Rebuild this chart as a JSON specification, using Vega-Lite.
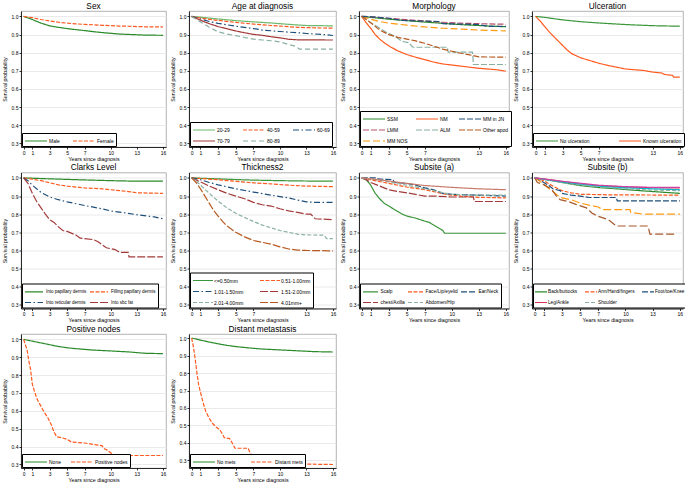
{
"$schema":"https://vega.github.io/schema/vega-lite/v6.json",
"background":"white",
"padding":{"left":1,"top":1,"right":0,"bottom":0},
"columns":4,
"bounds":"flush",
"spacing":{"row":25.5,"column":23},
"resolve":{"scale":{"color":"independent","strokeDash":"independent","x":"independent","y":"independent"}},
"config":{
 "font":"Liberation Sans",
 "view":{"stroke":"#a0a0a0","strokeWidth":0.8},
 "title":{"fontSize":8.3,"fontWeight":"normal","offset":1,"color":"#000"},
 "axis":{"labelFontSize":5,"titleFontSize":5.3,"titleFontWeight":"normal","tickSize":2,"tickColor":"#000","domainColor":"#000","domainWidth":0.8,"tickWidth":0.8,"labelColor":"#000","titleColor":"#000","labelPadding":1},
 "axisX":{"grid":false,"titlePadding":1,"labelFlush":false,"labelAngle":0},
 "axisY":{"grid":true,"gridColor":"#e4e4e4","gridWidth":0.8,"titlePadding":4,"labelAngle":0},
 "legend":{"orient":"bottom-left","direction":"horizontal","gridAlign":"each","offset":1,"padding":2,"fillColor":"#fff","strokeColor":"#000","labelFontSize":5,"labelColor":"#000","symbolType":"M-2.2,0H2.2","symbolSize":100,"symbolOffset":6,"labelOffset":7,"symbolStrokeWidth":1.2,"rowPadding":2,"labelLimit":200}
},
"concat":[
{"title":"Sex","width":145,"height":136,
 "data":{"values":[
 {"g":"Male","t":0,"s":1},{"g":"Male","t":0.5,"s":0.992},{"g":"Male","t":1,"s":0.983},{"g":"Male","t":2,"s":0.963},{"g":"Male","t":3,"s":0.948},{"g":"Male","t":4,"s":0.94},{"g":"Male","t":5,"s":0.933},{"g":"Male","t":6,"s":0.927},{"g":"Male","t":7,"s":0.922},{"g":"Male","t":8,"s":0.916},{"g":"Male","t":9,"s":0.911},{"g":"Male","t":10,"s":0.907},{"g":"Male","t":11,"s":0.903},{"g":"Male","t":12,"s":0.901},{"g":"Male","t":13,"s":0.899},{"g":"Male","t":14,"s":0.897},{"g":"Male","t":16,"s":0.896},
 {"g":"Female","t":0,"s":1},{"g":"Female","t":1,"s":0.993},{"g":"Female","t":2,"s":0.983},{"g":"Female","t":3,"s":0.975},{"g":"Female","t":4,"s":0.968},{"g":"Female","t":5,"s":0.963},{"g":"Female","t":6,"s":0.959},{"g":"Female","t":7,"s":0.956},{"g":"Female","t":8,"s":0.954},{"g":"Female","t":9,"s":0.951},{"g":"Female","t":10,"s":0.949},{"g":"Female","t":11,"s":0.947},{"g":"Female","t":12,"s":0.946},{"g":"Female","t":13,"s":0.944},{"g":"Female","t":14,"s":0.943},{"g":"Female","t":16,"s":0.942}
 ]},
 "mark":{"type":"line","strokeWidth":1.2,"clip":true},
 "encoding":{
  "x":{"field":"t","type":"quantitative","scale":{"domain":[-0.3,16.35],"nice":false,"zero":false},"axis":{"values":[0,1,3,5,7,10,13,16],"title":"Years since diagnosis"}},
  "y":{"field":"s","type":"quantitative","scale":{"domain":[0.28,1.03],"nice":false,"zero":false},"axis":{"values":[0.3,0.4,0.5,0.6,0.7,0.8,0.9,1.0],"format":".1f","title":"Survival probability"}},
  "color":{"field":"g","type":"nominal","scale":{"domain":["Male","Female"],"range":["#2a8a2a","#ff5a1f"]},"legend":{"title":null,"columns":2,"columnPadding":10}},
  "strokeDash":{"field":"g","type":"nominal","scale":{"domain":["Male","Female"],"range":[[1,0],[4,1.5]]},"legend":{"title":null,"columns":2,"columnPadding":10}}
 }},
{"title":"Age at diagnosis","width":147,"height":136,
 "data":{"values":[
 {"g":"20-29","t":0,"s":1},{"g":"20-29","t":1,"s":0.996},{"g":"20-29","t":3,"s":0.986},{"g":"20-29","t":5,"s":0.977},{"g":"20-29","t":7,"s":0.97},{"g":"20-29","t":9,"s":0.964},{"g":"20-29","t":10,"s":0.96},{"g":"20-29","t":12,"s":0.953},{"g":"20-29","t":13,"s":0.95},{"g":"20-29","t":16,"s":0.948},
 {"g":"40-59","t":0,"s":1},{"g":"40-59","t":1,"s":0.991},{"g":"40-59","t":3,"s":0.978},{"g":"40-59","t":5,"s":0.967},{"g":"40-59","t":7,"s":0.958},{"g":"40-59","t":9,"s":0.95},{"g":"40-59","t":10,"s":0.947},{"g":"40-59","t":12,"s":0.94},{"g":"40-59","t":14,"s":0.937},{"g":"40-59","t":16,"s":0.935},
 {"g":"60-69","t":0,"s":1},{"g":"60-69","t":1,"s":0.986},{"g":"60-69","t":2,"s":0.972},{"g":"60-69","t":3,"s":0.962},{"g":"60-69","t":5,"s":0.946},{"g":"60-69","t":7,"s":0.933},{"g":"60-69","t":8,"s":0.925},{"g":"60-69","t":10,"s":0.917},{"g":"60-69","t":12,"s":0.91},{"g":"60-69","t":13,"s":0.906},{"g":"60-69","t":15,"s":0.9},{"g":"60-69","t":16,"s":0.895},
 {"g":"70-79","t":0,"s":1},{"g":"70-79","t":1,"s":0.979},{"g":"70-79","t":2,"s":0.96},{"g":"70-79","t":3,"s":0.944},{"g":"70-79","t":4,"s":0.932},{"g":"70-79","t":5,"s":0.92},{"g":"70-79","t":6,"s":0.91},{"g":"70-79","t":7,"s":0.901},{"g":"70-79","t":8,"s":0.896},{"g":"70-79","t":9,"s":0.888},{"g":"70-79","t":10,"s":0.882},{"g":"70-79","t":11,"s":0.874},{"g":"70-79","t":12,"s":0.871},{"g":"70-79","t":16,"s":0.87},
 {"g":"80-89","t":0,"s":1},{"g":"80-89","t":0.5,"s":0.985},{"g":"80-89","t":1,"s":0.97},{"g":"80-89","t":2,"s":0.94},{"g":"80-89","t":3,"s":0.915},{"g":"80-89","t":4,"s":0.903},{"g":"80-89","t":5,"s":0.894},{"g":"80-89","t":6,"s":0.884},{"g":"80-89","t":7,"s":0.875},{"g":"80-89","t":8,"s":0.87},{"g":"80-89","t":9,"s":0.866},{"g":"80-89","t":10,"s":0.86},{"g":"80-89","t":11,"s":0.845},{"g":"80-89","t":11.8,"s":0.835},{"g":"80-89","t":12.2,"s":0.82},{"g":"80-89","t":16,"s":0.82}
 ]},
 "mark":{"type":"line","strokeWidth":1.2,"clip":true},
 "encoding":{
  "x":{"field":"t","type":"quantitative","scale":{"domain":[-0.3,16.35],"nice":false,"zero":false},"axis":{"values":[0,1,3,5,7,10,13,16],"title":"Years since diagnosis"}},
  "y":{"field":"s","type":"quantitative","scale":{"domain":[0.28,1.03],"nice":false,"zero":false},"axis":{"values":[0.3,0.4,0.5,0.6,0.7,0.8,0.9,1.0],"format":".1f","title":"Survival probability"}},
  "color":{"field":"g","type":"nominal","scale":{"domain":["20-29","40-59","60-69","70-79","80-89"],"range":["#6cb86c","#ff5a1f","#1e4f7a","#a33a3a","#8ab0a0"]},"legend":{"title":null,"columns":3,"columnPadding":10}},
  "strokeDash":{"field":"g","type":"nominal","scale":{"domain":["20-29","40-59","60-69","70-79","80-89"],"range":[[1,0],[4,1.5],[6,2.5,1.5,2.5],[1,0],[5,3]]},"legend":{"title":null,"columns":3,"columnPadding":10}}
 }},
{"title":"Morphology","width":150,"height":136,
 "data":{"values":[
 {"g":"SSM","t":0,"s":1},{"g":"SSM","t":1,"s":0.995},{"g":"SSM","t":3,"s":0.985},{"g":"SSM","t":5,"s":0.977},{"g":"SSM","t":7,"s":0.969},{"g":"SSM","t":9,"s":0.962},{"g":"SSM","t":11,"s":0.955},{"g":"SSM","t":13,"s":0.95},{"g":"SSM","t":15,"s":0.945},{"g":"SSM","t":16,"s":0.943},
 {"g":"LMM","t":0,"s":1},{"g":"LMM","t":1,"s":0.998},{"g":"LMM","t":3,"s":0.99},{"g":"LMM","t":5,"s":0.982},{"g":"LMM","t":7,"s":0.975},{"g":"LMM","t":9,"s":0.968},{"g":"LMM","t":11,"s":0.963},{"g":"LMM","t":13,"s":0.96},{"g":"LMM","t":16,"s":0.957},
 {"g":"MM NOS","t":0,"s":1},{"g":"MM NOS","t":1,"s":0.985},{"g":"MM NOS","t":2,"s":0.972},{"g":"MM NOS","t":3,"s":0.963},{"g":"MM NOS","t":5,"s":0.952},{"g":"MM NOS","t":7,"s":0.942},{"g":"MM NOS","t":9,"s":0.935},{"g":"MM NOS","t":11,"s":0.93},{"g":"MM NOS","t":13,"s":0.925},{"g":"MM NOS","t":16,"s":0.92},
 {"g":"NM","t":0,"s":1},{"g":"NM","t":0.5,"s":0.965},{"g":"NM","t":1,"s":0.935},{"g":"NM","t":1.5,"s":0.9},{"g":"NM","t":2,"s":0.875},{"g":"NM","t":2.5,"s":0.855},{"g":"NM","t":3,"s":0.838},{"g":"NM","t":4,"s":0.81},{"g":"NM","t":5,"s":0.79},{"g":"NM","t":6,"s":0.775},{"g":"NM","t":7,"s":0.762},{"g":"NM","t":8,"s":0.748},{"g":"NM","t":9,"s":0.738},{"g":"NM","t":10,"s":0.732},{"g":"NM","t":11,"s":0.726},{"g":"NM","t":12,"s":0.72},{"g":"NM","t":13,"s":0.714},{"g":"NM","t":14,"s":0.71},{"g":"NM","t":15,"s":0.706},{"g":"NM","t":16,"s":0.698},
 {"g":"ALM","t":0,"s":1},{"g":"ALM","t":1,"s":0.965},{"g":"ALM","t":2,"s":0.935},{"g":"ALM","t":2.8,"s":0.91},{"g":"ALM","t":3.3,"s":0.9},{"g":"ALM","t":4,"s":0.88},{"g":"ALM","t":4.5,"s":0.862},{"g":"ALM","t":5.2,"s":0.855},{"g":"ALM","t":5.7,"s":0.83},{"g":"ALM","t":9.5,"s":0.83},{"g":"ALM","t":9.6,"s":0.803},{"g":"ALM","t":12.3,"s":0.803},{"g":"ALM","t":12.4,"s":0.735},{"g":"ALM","t":16,"s":0.735},
 {"g":"MM in JN","t":0,"s":1},{"g":"MM in JN","t":1,"s":0.998},{"g":"MM in JN","t":3,"s":0.99},{"g":"MM in JN","t":4.5,"s":0.978},{"g":"MM in JN","t":6,"s":0.975},{"g":"MM in JN","t":8.5,"s":0.972},{"g":"MM in JN","t":9,"s":0.96},{"g":"MM in JN","t":11,"s":0.958},{"g":"MM in JN","t":13,"s":0.955},{"g":"MM in JN","t":14,"s":0.945},{"g":"MM in JN","t":16,"s":0.945},
 {"g":"Other apod","t":0,"s":1},{"g":"Other apod","t":0.5,"s":0.985},{"g":"Other apod","t":1,"s":0.965},{"g":"Other apod","t":2,"s":0.925},{"g":"Other apod","t":3,"s":0.9},{"g":"Other apod","t":4,"s":0.885},{"g":"Other apod","t":5,"s":0.875},{"g":"Other apod","t":6,"s":0.865},{"g":"Other apod","t":7,"s":0.852},{"g":"Other apod","t":8,"s":0.836},{"g":"Other apod","t":9,"s":0.82},{"g":"Other apod","t":10,"s":0.808},{"g":"Other apod","t":11,"s":0.797},{"g":"Other apod","t":12,"s":0.788},{"g":"Other apod","t":13,"s":0.777},{"g":"Other apod","t":16,"s":0.775}
 ]},
 "mark":{"type":"line","strokeWidth":1.2,"clip":true},
 "encoding":{
  "x":{"field":"t","type":"quantitative","scale":{"domain":[-0.3,16.35],"nice":false,"zero":false},"axis":{"values":[0,1,3,5,7,13,16],"title":"Years since diagnosis"}},
  "y":{"field":"s","type":"quantitative","scale":{"domain":[0.28,1.03],"nice":false,"zero":false},"axis":{"values":[0.3,0.4,0.5,0.6,0.7,0.8,0.9,1.0],"format":".1f","title":"Survival probability"}},
  "color":{"field":"g","type":"nominal","scale":{"domain":["SSM","NM","MM in JN","LMM","ALM","Other apod","MM NOS"],"range":["#2a8a2a","#ff5a1f","#1e4f7a","#b8506a","#8ab0a0","#b85a20","#ff9a10"]},"legend":{"title":null,"columns":3,"columnPadding":5}},
  "strokeDash":{"field":"g","type":"nominal","scale":{"domain":["SSM","NM","MM in JN","LMM","ALM","Other apod","MM NOS"],"range":[[1,0],[1,0],[6,2],[6,2],[6,2],[6,2],[7,3]]},"legend":{"title":null,"columns":3,"columnPadding":5}}
 }},
{"title":"Ulceration","width":151,"height":136,
 "data":{"values":[
 {"g":"No ulceration","t":0,"s":1},{"g":"No ulceration","t":1,"s":0.995},{"g":"No ulceration","t":2,"s":0.988},{"g":"No ulceration","t":3,"s":0.981},{"g":"No ulceration","t":5,"s":0.971},{"g":"No ulceration","t":7,"s":0.964},{"g":"No ulceration","t":9,"s":0.958},{"g":"No ulceration","t":11,"s":0.953},{"g":"No ulceration","t":13,"s":0.949},{"g":"No ulceration","t":16,"s":0.946},
 {"g":"Known ulceration","t":0,"s":1},{"g":"Known ulceration","t":0.5,"s":0.975},{"g":"Known ulceration","t":1,"s":0.945},{"g":"Known ulceration","t":1.5,"s":0.915},{"g":"Known ulceration","t":2,"s":0.89},{"g":"Known ulceration","t":2.5,"s":0.865},{"g":"Known ulceration","t":3,"s":0.84},{"g":"Known ulceration","t":3.5,"s":0.815},{"g":"Known ulceration","t":4,"s":0.795},{"g":"Known ulceration","t":5,"s":0.772},{"g":"Known ulceration","t":6,"s":0.757},{"g":"Known ulceration","t":7,"s":0.742},{"g":"Known ulceration","t":8,"s":0.73},{"g":"Known ulceration","t":9,"s":0.72},{"g":"Known ulceration","t":10,"s":0.71},{"g":"Known ulceration","t":11,"s":0.706},{"g":"Known ulceration","t":12,"s":0.702},{"g":"Known ulceration","t":13,"s":0.693},{"g":"Known ulceration","t":14,"s":0.688},{"g":"Known ulceration","t":14.3,"s":0.68},{"g":"Known ulceration","t":15.2,"s":0.675},{"g":"Known ulceration","t":15.3,"s":0.665},{"g":"Known ulceration","t":16,"s":0.665}
 ]},
 "mark":{"type":"line","strokeWidth":1.2,"clip":true},
 "encoding":{
  "x":{"field":"t","type":"quantitative","scale":{"domain":[-0.4,16.35],"nice":false,"zero":false},"axis":{"values":[0,1,3,5,7,13,16],"title":"Years since diagnosis"}},
  "y":{"field":"s","type":"quantitative","scale":{"domain":[0.28,1.03],"nice":false,"zero":false},"axis":{"values":[0.3,0.4,0.5,0.6,0.7,0.8,0.9,1.0],"format":".1f","title":"Survival probability"}},
  "color":{"field":"g","type":"nominal","scale":{"domain":["No ulceration","Known ulceration"],"range":["#3a963a","#ff5a1f"]},"legend":{"title":null,"columns":2,"columnPadding":26}},
  "strokeDash":{"field":"g","type":"nominal","scale":{"domain":["No ulceration","Known ulceration"],"range":[[1,0],[1,0]]},"legend":{"title":null,"columns":2,"columnPadding":26}}
 }},
{"title":"Clarks Level","width":145,"height":136,
 "data":{"values":[
 {"g":"Into papillary dermis","t":0,"s":1},{"g":"Into papillary dermis","t":3,"s":0.995},{"g":"Into papillary dermis","t":5,"s":0.992},{"g":"Into papillary dermis","t":7,"s":0.989},{"g":"Into papillary dermis","t":10,"s":0.985},{"g":"Into papillary dermis","t":13,"s":0.982},{"g":"Into papillary dermis","t":16,"s":0.982},
 {"g":"Filling papillary dermis","t":0,"s":1},{"g":"Filling papillary dermis","t":1,"s":0.993},{"g":"Filling papillary dermis","t":2,"s":0.985},{"g":"Filling papillary dermis","t":3,"s":0.973},{"g":"Filling papillary dermis","t":4,"s":0.962},{"g":"Filling papillary dermis","t":5,"s":0.955},{"g":"Filling papillary dermis","t":7,"s":0.945},{"g":"Filling papillary dermis","t":9,"s":0.94},{"g":"Filling papillary dermis","t":10,"s":0.935},{"g":"Filling papillary dermis","t":12,"s":0.925},{"g":"Filling papillary dermis","t":13,"s":0.918},{"g":"Filling papillary dermis","t":16,"s":0.915},
 {"g":"Into reticular dermis","t":0,"s":1},{"g":"Into reticular dermis","t":0.5,"s":0.985},{"g":"Into reticular dermis","t":1,"s":0.96},{"g":"Into reticular dermis","t":2,"s":0.92},{"g":"Into reticular dermis","t":3,"s":0.895},{"g":"Into reticular dermis","t":4,"s":0.88},{"g":"Into reticular dermis","t":5,"s":0.868},{"g":"Into reticular dermis","t":7,"s":0.848},{"g":"Into reticular dermis","t":9,"s":0.83},{"g":"Into reticular dermis","t":10,"s":0.818},{"g":"Into reticular dermis","t":12,"s":0.805},{"g":"Into reticular dermis","t":13,"s":0.797},{"g":"Into reticular dermis","t":15,"s":0.785},{"g":"Into reticular dermis","t":16,"s":0.775},
 {"g":"Into sbc fat","t":0,"s":1},{"g":"Into sbc fat","t":0.5,"s":0.97},{"g":"Into sbc fat","t":1,"s":0.915},{"g":"Into sbc fat","t":1.5,"s":0.87},{"g":"Into sbc fat","t":2,"s":0.835},{"g":"Into sbc fat","t":2.5,"s":0.8},{"g":"Into sbc fat","t":3,"s":0.77},{"g":"Into sbc fat","t":3.5,"s":0.755},{"g":"Into sbc fat","t":4,"s":0.73},{"g":"Into sbc fat","t":4.5,"s":0.71},{"g":"Into sbc fat","t":5,"s":0.705},{"g":"Into sbc fat","t":6,"s":0.685},{"g":"Into sbc fat","t":6.5,"s":0.668},{"g":"Into sbc fat","t":8,"s":0.66},{"g":"Into sbc fat","t":8.5,"s":0.65},{"g":"Into sbc fat","t":9,"s":0.632},{"g":"Into sbc fat","t":9.5,"s":0.615},{"g":"Into sbc fat","t":10.5,"s":0.605},{"g":"Into sbc fat","t":11,"s":0.59},{"g":"Into sbc fat","t":12,"s":0.59},{"g":"Into sbc fat","t":12.1,"s":0.565},{"g":"Into sbc fat","t":16,"s":0.565}
 ]},
 "mark":{"type":"line","strokeWidth":1.2,"clip":true},
 "encoding":{
  "x":{"field":"t","type":"quantitative","scale":{"domain":[-0.3,16.35],"nice":false,"zero":false},"axis":{"values":[0,1,3,5,7,10,13,16],"title":"Years since diagnosis"}},
  "y":{"field":"s","type":"quantitative","scale":{"domain":[0.28,1.03],"nice":false,"zero":false},"axis":{"values":[0.3,0.4,0.5,0.6,0.7,0.8,0.9,1.0],"format":".1f","title":"Survival probability"}},
  "color":{"field":"g","type":"nominal","scale":{"domain":["Into papillary dermis","Filling papillary dermis","Into reticular dermis","Into sbc fat"],"range":["#2a8a2a","#ff5a1f","#1e4f7a","#a33a3a"]},"legend":{"title":null,"columns":2,"columnPadding":0,"labelFontSize":4.5,"symbolType":"M-1.8,0H1.8","symbolOffset":4,"labelOffset":6}},
  "strokeDash":{"field":"g","type":"nominal","scale":{"domain":["Into papillary dermis","Filling papillary dermis","Into reticular dermis","Into sbc fat"],"range":[[1,0],[4,1.5],[6,2.5,1.5,2.5],[8,2]]},"legend":{"title":null,"columns":2,"columnPadding":0,"labelFontSize":4.5,"symbolType":"M-1.8,0H1.8","symbolOffset":4,"labelOffset":6}}
 }},
{"title":"Thickness2","width":147,"height":136,
 "data":{"values":[
 {"g":"<=0.50mm","t":0,"s":1},{"g":"<=0.50mm","t":3,"s":0.995},{"g":"<=0.50mm","t":5,"s":0.991},{"g":"<=0.50mm","t":7,"s":0.988},{"g":"<=0.50mm","t":10,"s":0.985},{"g":"<=0.50mm","t":13,"s":0.983},{"g":"<=0.50mm","t":16,"s":0.982},
 {"g":"0.51-1.00mm","t":0,"s":1},{"g":"0.51-1.00mm","t":1,"s":0.997},{"g":"0.51-1.00mm","t":3,"s":0.99},{"g":"0.51-1.00mm","t":5,"s":0.981},{"g":"0.51-1.00mm","t":7,"s":0.973},{"g":"0.51-1.00mm","t":9,"s":0.967},{"g":"0.51-1.00mm","t":11,"s":0.96},{"g":"0.51-1.00mm","t":13,"s":0.955},{"g":"0.51-1.00mm","t":16,"s":0.952},
 {"g":"1.01-1.50mm","t":0,"s":1},{"g":"1.01-1.50mm","t":1,"s":0.99},{"g":"1.01-1.50mm","t":2,"s":0.975},{"g":"1.01-1.50mm","t":3,"s":0.962},{"g":"1.01-1.50mm","t":5,"s":0.94},{"g":"1.01-1.50mm","t":7,"s":0.922},{"g":"1.01-1.50mm","t":9,"s":0.905},{"g":"1.01-1.50mm","t":10,"s":0.897},{"g":"1.01-1.50mm","t":11,"s":0.89},{"g":"1.01-1.50mm","t":12,"s":0.878},{"g":"1.01-1.50mm","t":13,"s":0.868},{"g":"1.01-1.50mm","t":14,"s":0.865},{"g":"1.01-1.50mm","t":16,"s":0.865},
 {"g":"1.51-2.00mm","t":0,"s":1},{"g":"1.51-2.00mm","t":1,"s":0.978},{"g":"1.51-2.00mm","t":2,"s":0.955},{"g":"1.51-2.00mm","t":3,"s":0.935},{"g":"1.51-2.00mm","t":4,"s":0.915},{"g":"1.51-2.00mm","t":5,"s":0.9},{"g":"1.51-2.00mm","t":6,"s":0.885},{"g":"1.51-2.00mm","t":7,"s":0.865},{"g":"1.51-2.00mm","t":8,"s":0.852},{"g":"1.51-2.00mm","t":9,"s":0.845},{"g":"1.51-2.00mm","t":10,"s":0.83},{"g":"1.51-2.00mm","t":11,"s":0.818},{"g":"1.51-2.00mm","t":12,"s":0.81},{"g":"1.51-2.00mm","t":13,"s":0.8},{"g":"1.51-2.00mm","t":13.5,"s":0.8},{"g":"1.51-2.00mm","t":14,"s":0.775},{"g":"1.51-2.00mm","t":16,"s":0.77},
 {"g":"2.01-4.00mm","t":0,"s":1},{"g":"2.01-4.00mm","t":0.5,"s":0.985},{"g":"2.01-4.00mm","t":1,"s":0.96},{"g":"2.01-4.00mm","t":2,"s":0.915},{"g":"2.01-4.00mm","t":3,"s":0.872},{"g":"2.01-4.00mm","t":4,"s":0.835},{"g":"2.01-4.00mm","t":5,"s":0.805},{"g":"2.01-4.00mm","t":6,"s":0.782},{"g":"2.01-4.00mm","t":7,"s":0.76},{"g":"2.01-4.00mm","t":8,"s":0.74},{"g":"2.01-4.00mm","t":9,"s":0.725},{"g":"2.01-4.00mm","t":10,"s":0.71},{"g":"2.01-4.00mm","t":11,"s":0.7},{"g":"2.01-4.00mm","t":12,"s":0.69},{"g":"2.01-4.00mm","t":13,"s":0.686},{"g":"2.01-4.00mm","t":15,"s":0.684},{"g":"2.01-4.00mm","t":15.3,"s":0.665},{"g":"2.01-4.00mm","t":16,"s":0.665},
 {"g":"4.01mm+","t":0,"s":1},{"g":"4.01mm+","t":0.5,"s":0.975},{"g":"4.01mm+","t":1,"s":0.94},{"g":"4.01mm+","t":1.5,"s":0.9},{"g":"4.01mm+","t":2,"s":0.86},{"g":"4.01mm+","t":2.5,"s":0.82},{"g":"4.01mm+","t":3,"s":0.79},{"g":"4.01mm+","t":3.5,"s":0.76},{"g":"4.01mm+","t":4,"s":0.735},{"g":"4.01mm+","t":5,"s":0.7},{"g":"4.01mm+","t":6,"s":0.675},{"g":"4.01mm+","t":7,"s":0.655},{"g":"4.01mm+","t":8,"s":0.645},{"g":"4.01mm+","t":9,"s":0.635},{"g":"4.01mm+","t":10,"s":0.62},{"g":"4.01mm+","t":11,"s":0.608},{"g":"4.01mm+","t":12,"s":0.602},{"g":"4.01mm+","t":13,"s":0.6},{"g":"4.01mm+","t":16,"s":0.598}
 ]},
 "mark":{"type":"line","strokeWidth":1.2,"clip":true},
 "encoding":{
  "x":{"field":"t","type":"quantitative","scale":{"domain":[-0.3,16.35],"nice":false,"zero":false},"axis":{"values":[0,1,3,5,7,13,16],"title":"Years since diagnosis"}},
  "y":{"field":"s","type":"quantitative","scale":{"domain":[0.28,1.03],"nice":false,"zero":false},"axis":{"values":[0.3,0.4,0.5,0.6,0.7,0.8,0.9,1.0],"format":".1f","title":"Survival probability"}},
  "color":{"field":"g","type":"nominal","scale":{"domain":["<=0.50mm","0.51-1.00mm","1.01-1.50mm","1.51-2.00mm","2.01-4.00mm","4.01mm+"],"range":["#3a963a","#ff5a1f","#1e4f7a","#a33a3a","#8ab0a0","#b85a20"]},"legend":{"title":null,"columns":2,"columnPadding":13,"symbolType":"M-2,0H2","symbolOffset":5,"labelOffset":5}},
  "strokeDash":{"field":"g","type":"nominal","scale":{"domain":["<=0.50mm","0.51-1.00mm","1.01-1.50mm","1.51-2.00mm","2.01-4.00mm","4.01mm+"],"range":[[1,0],[4,1.5],[6,2.5,1.5,2.5],[8,2],[4,2],[8,2]]},"legend":{"title":null,"columns":2,"columnPadding":13,"symbolType":"M-2,0H2","symbolOffset":5,"labelOffset":5}}
 }},
{"title":"Subsite (a)","width":150,"height":136,
 "data":{"values":[
 {"g":"Scalp","t":0,"s":1},{"g":"Scalp","t":0.5,"s":0.99},{"g":"Scalp","t":1,"s":0.96},{"g":"Scalp","t":1.5,"s":0.915},{"g":"Scalp","t":2,"s":0.885},{"g":"Scalp","t":2.5,"s":0.86},{"g":"Scalp","t":3,"s":0.845},{"g":"Scalp","t":3.5,"s":0.83},{"g":"Scalp","t":4,"s":0.815},{"g":"Scalp","t":4.5,"s":0.8},{"g":"Scalp","t":5,"s":0.79},{"g":"Scalp","t":6,"s":0.778},{"g":"Scalp","t":7,"s":0.762},{"g":"Scalp","t":7.5,"s":0.755},{"g":"Scalp","t":8,"s":0.74},{"g":"Scalp","t":8.5,"s":0.725},{"g":"Scalp","t":9,"s":0.71},{"g":"Scalp","t":9.2,"s":0.695},{"g":"Scalp","t":16,"s":0.695},
 {"g":"Face/Lip/eyelid","t":0,"s":1},{"g":"Face/Lip/eyelid","t":1,"s":0.99},{"g":"Face/Lip/eyelid","t":2,"s":0.98},{"g":"Face/Lip/eyelid","t":3,"s":0.97},{"g":"Face/Lip/eyelid","t":5,"s":0.95},{"g":"Face/Lip/eyelid","t":7,"s":0.935},{"g":"Face/Lip/eyelid","t":8,"s":0.925},{"g":"Face/Lip/eyelid","t":9,"s":0.913},{"g":"Face/Lip/eyelid","t":10,"s":0.905},{"g":"Face/Lip/eyelid","t":11,"s":0.9},{"g":"Face/Lip/eyelid","t":13,"s":0.893},{"g":"Face/Lip/eyelid","t":16,"s":0.89},
 {"g":"Ear/Neck","t":0,"s":1},{"g":"Ear/Neck","t":1.5,"s":1.0},{"g":"Ear/Neck","t":1.6,"s":0.995},{"g":"Ear/Neck","t":3.5,"s":0.99},{"g":"Ear/Neck","t":3.6,"s":0.975},{"g":"Ear/Neck","t":5,"s":0.97},{"g":"Ear/Neck","t":6,"s":0.96},{"g":"Ear/Neck","t":7,"s":0.945},{"g":"Ear/Neck","t":8,"s":0.935},{"g":"Ear/Neck","t":9,"s":0.915},{"g":"Ear/Neck","t":10,"s":0.91},{"g":"Ear/Neck","t":13,"s":0.905},{"g":"Ear/Neck","t":16,"s":0.9},
 {"g":"chest/Axilla","t":0,"s":1},{"g":"chest/Axilla","t":0.5,"s":0.99},{"g":"chest/Axilla","t":1,"s":0.975},{"g":"chest/Axilla","t":2,"s":0.955},{"g":"chest/Axilla","t":3,"s":0.935},{"g":"chest/Axilla","t":4,"s":0.925},{"g":"chest/Axilla","t":5,"s":0.918},{"g":"chest/Axilla","t":7,"s":0.9},{"g":"chest/Axilla","t":8,"s":0.9},{"g":"chest/Axilla","t":10,"s":0.895},{"g":"chest/Axilla","t":12.4,"s":0.895},{"g":"chest/Axilla","t":12.5,"s":0.87},{"g":"chest/Axilla","t":16,"s":0.87},
 {"g":"Abdomen/Hip","t":0,"s":1},{"g":"Abdomen/Hip","t":1,"s":0.995},{"g":"Abdomen/Hip","t":3,"s":0.978},{"g":"Abdomen/Hip","t":5,"s":0.96},{"g":"Abdomen/Hip","t":7,"s":0.94},{"g":"Abdomen/Hip","t":8,"s":0.93},{"g":"Abdomen/Hip","t":9,"s":0.918},{"g":"Abdomen/Hip","t":10,"s":0.91},{"g":"Abdomen/Hip","t":12,"s":0.905},{"g":"Abdomen/Hip","t":16,"s":0.905},
 {"g":"Other","t":0,"s":1},{"g":"Other","t":1,"s":0.995},{"g":"Other","t":3,"s":0.983},{"g":"Other","t":5,"s":0.97},{"g":"Other","t":7,"s":0.958},{"g":"Other","t":10,"s":0.948},{"g":"Other","t":13,"s":0.94},{"g":"Other","t":16,"s":0.935}
 ]},
 "mark":{"type":"line","strokeWidth":1.2,"clip":true},
 "encoding":{
  "x":{"field":"t","type":"quantitative","scale":{"domain":[-0.3,16.35],"nice":false,"zero":false},"axis":{"values":[0,1,3,5,7,10,13,16],"title":"Years since diagnosis"}},
  "y":{"field":"s","type":"quantitative","scale":{"domain":[0.28,1.03],"nice":false,"zero":false},"axis":{"values":[0.3,0.4,0.5,0.6,0.7,0.8,0.9,1.0],"format":".1f","title":"Survival probability"}},
  "color":{"field":"g","type":"nominal","scale":{"domain":["Scalp","Face/Lip/eyelid","Ear/Neck","chest/Axilla","Abdomen/Hip","Other"],"range":["#3a963a","#ff5a1f","#1e4f7a","#a33a3a","#8ab0a0","#c87a6a"]},"legend":{"title":null,"columns":3,"columnPadding":0,"labelFontSize":4.8,"symbolType":"M-1.5,0H1.5","symbolOffset":2.5,"labelOffset":4,"values":["Scalp","Face/Lip/eyelid","Ear/Neck","chest/Axilla","Abdomen/Hip"]}},
  "strokeDash":{"field":"g","type":"nominal","scale":{"domain":["Scalp","Face/Lip/eyelid","Ear/Neck","chest/Axilla","Abdomen/Hip","Other"],"range":[[1,0],[4,1.5],[6,2],[8,2],[4,2],[1,0]]},"legend":{"title":null,"columns":3,"columnPadding":0,"labelFontSize":4.8,"symbolType":"M-1.5,0H1.5","symbolOffset":2.5,"labelOffset":4,"values":["Scalp","Face/Lip/eyelid","Ear/Neck","chest/Axilla","Abdomen/Hip"]}}
 }},
{"title":"Subsite (b)","width":151,"height":136,
 "data":{"values":[
 {"g":"Back/buttocks","t":0,"s":1},{"g":"Back/buttocks","t":1,"s":0.993},{"g":"Back/buttocks","t":3,"s":0.975},{"g":"Back/buttocks","t":5,"s":0.958},{"g":"Back/buttocks","t":7,"s":0.947},{"g":"Back/buttocks","t":9,"s":0.94},{"g":"Back/buttocks","t":11,"s":0.932},{"g":"Back/buttocks","t":13,"s":0.925},{"g":"Back/buttocks","t":16,"s":0.915},
 {"g":"Arm/Hand/fingers","t":0,"s":1},{"g":"Arm/Hand/fingers","t":1,"s":0.985},{"g":"Arm/Hand/fingers","t":2,"s":0.955},{"g":"Arm/Hand/fingers","t":3,"s":0.93},{"g":"Arm/Hand/fingers","t":4,"s":0.918},{"g":"Arm/Hand/fingers","t":5,"s":0.91},{"g":"Arm/Hand/fingers","t":8,"s":0.907},{"g":"Arm/Hand/fingers","t":16,"s":0.905},
 {"g":"Foot/toe/Knee","t":0,"s":1},{"g":"Foot/toe/Knee","t":1,"s":0.975},{"g":"Foot/toe/Knee","t":1.5,"s":0.96},{"g":"Foot/toe/Knee","t":2,"s":0.94},{"g":"Foot/toe/Knee","t":2.8,"s":0.93},{"g":"Foot/toe/Knee","t":3,"s":0.915},{"g":"Foot/toe/Knee","t":4,"s":0.905},{"g":"Foot/toe/Knee","t":5,"s":0.9},{"g":"Foot/toe/Knee","t":6,"s":0.892},{"g":"Foot/toe/Knee","t":9,"s":0.892},{"g":"Foot/toe/Knee","t":9.1,"s":0.873},{"g":"Foot/toe/Knee","t":16,"s":0.873},
 {"g":"Leg/Ankle","t":0,"s":1},{"g":"Leg/Ankle","t":1,"s":0.995},{"g":"Leg/Ankle","t":3,"s":0.98},{"g":"Leg/Ankle","t":5,"s":0.968},{"g":"Leg/Ankle","t":7,"s":0.958},{"g":"Leg/Ankle","t":10,"s":0.95},{"g":"Leg/Ankle","t":13,"s":0.946},{"g":"Leg/Ankle","t":16,"s":0.945},
 {"g":"Shoulder","t":0,"s":1},{"g":"Shoulder","t":1,"s":0.993},{"g":"Shoulder","t":3,"s":0.975},{"g":"Shoulder","t":5,"s":0.96},{"g":"Shoulder","t":7,"s":0.95},{"g":"Shoulder","t":10,"s":0.94},{"g":"Shoulder","t":13,"s":0.933},{"g":"Shoulder","t":16,"s":0.93},
 {"g":"Site F","t":0,"s":1},{"g":"Site F","t":0.5,"s":0.985},{"g":"Site F","t":1,"s":0.965},{"g":"Site F","t":1.5,"s":0.945},{"g":"Site F","t":2,"s":0.925},{"g":"Site F","t":2.5,"s":0.905},{"g":"Site F","t":3,"s":0.89},{"g":"Site F","t":4,"s":0.88},{"g":"Site F","t":5,"s":0.862},{"g":"Site F","t":6,"s":0.85},{"g":"Site F","t":7,"s":0.84},{"g":"Site F","t":7.5,"s":0.825},{"g":"Site F","t":10.5,"s":0.825},{"g":"Site F","t":10.6,"s":0.81},{"g":"Site F","t":12,"s":0.8},{"g":"Site F","t":16,"s":0.8},
 {"g":"Site G","t":0,"s":1},{"g":"Site G","t":0.3,"s":0.975},{"g":"Site G","t":1,"s":0.963},{"g":"Site G","t":1.9,"s":0.935},{"g":"Site G","t":2.4,"s":0.9},{"g":"Site G","t":2.8,"s":0.88},{"g":"Site G","t":3.7,"s":0.87},{"g":"Site G","t":4.6,"s":0.853},{"g":"Site G","t":5.7,"s":0.835},{"g":"Site G","t":6.3,"s":0.807},{"g":"Site G","t":6.9,"s":0.79},{"g":"Site G","t":8.1,"s":0.77},{"g":"Site G","t":9,"s":0.735},{"g":"Site G","t":12.5,"s":0.735},{"g":"Site G","t":12.7,"s":0.69},{"g":"Site G","t":15.4,"s":0.69},
 {"g":"Site H","t":0,"s":1},{"g":"Site H","t":3,"s":0.978},{"g":"Site H","t":7,"s":0.955},{"g":"Site H","t":10,"s":0.946},{"g":"Site H","t":13,"s":0.94},{"g":"Site H","t":16,"s":0.935},
 {"g":"Site I","t":0,"s":1},{"g":"Site I","t":3,"s":0.982},{"g":"Site I","t":7,"s":0.96},{"g":"Site I","t":10,"s":0.952},{"g":"Site I","t":13,"s":0.948},{"g":"Site I","t":16,"s":0.948}
 ]},
 "mark":{"type":"line","strokeWidth":1.2,"clip":true},
 "encoding":{
  "x":{"field":"t","type":"quantitative","scale":{"domain":[-0.3,16.35],"nice":false,"zero":false},"axis":{"values":[0,1,3,5,7,10,13,16],"title":"Years since diagnosis"}},
  "y":{"field":"s","type":"quantitative","scale":{"domain":[0.28,1.03],"nice":false,"zero":false},"axis":{"values":[0.3,0.4,0.5,0.6,0.7,0.8,0.9,1.0],"format":".1f","title":"Survival probability"}},
  "color":{"field":"g","type":"nominal","scale":{"domain":["Back/buttocks","Arm/Hand/fingers","Foot/toe/Knee","Leg/Ankle","Shoulder","Site F","Site G","Site H","Site I"],"range":["#2a8a2a","#ff5a1f","#1e4f7a","#e0305a","#8ab0a0","#ff9a10","#a8582a","#10b5c5","#d040a0"]},"legend":{"title":null,"columns":3,"columnPadding":4,"labelFontSize":4.7,"symbolType":"M-1.2,0H1.2","symbolOffset":0,"labelOffset":1,"values":["Back/buttocks","Arm/Hand/fingers","Foot/toe/Knee","Leg/Ankle","Shoulder"]}},
  "strokeDash":{"field":"g","type":"nominal","scale":{"domain":["Back/buttocks","Arm/Hand/fingers","Foot/toe/Knee","Leg/Ankle","Shoulder","Site F","Site G","Site H","Site I"],"range":[[1,0],[4,1.5],[6,2],[1,0],[4,2],[8,3],[8,3],[1,0],[1,0]]},"legend":{"title":null,"columns":3,"columnPadding":4,"labelFontSize":4.7,"symbolType":"M-1.2,0H1.2","symbolOffset":0,"labelOffset":1,"values":["Back/buttocks","Arm/Hand/fingers","Foot/toe/Knee","Leg/Ankle","Shoulder"]}}
 }},
{"title":"Positive nodes","width":145,"height":134,
 "data":{"values":[
 {"g":"None","t":0,"s":1},{"g":"None","t":1,"s":0.99},{"g":"None","t":2,"s":0.98},{"g":"None","t":3,"s":0.97},{"g":"None","t":4,"s":0.96},{"g":"None","t":5,"s":0.953},{"g":"None","t":6,"s":0.948},{"g":"None","t":7,"s":0.944},{"g":"None","t":8,"s":0.94},{"g":"None","t":10,"s":0.935},{"g":"None","t":12,"s":0.93},{"g":"None","t":13,"s":0.926},{"g":"None","t":14,"s":0.922},{"g":"None","t":16,"s":0.92},
 {"g":"Positive nodes","t":0,"s":1},{"g":"Positive nodes","t":0.2,"s":0.97},{"g":"Positive nodes","t":0.4,"s":0.94},{"g":"Positive nodes","t":0.6,"s":0.88},{"g":"Positive nodes","t":0.8,"s":0.83},{"g":"Positive nodes","t":1,"s":0.75},{"g":"Positive nodes","t":1.3,"s":0.7},{"g":"Positive nodes","t":1.6,"s":0.66},{"g":"Positive nodes","t":2,"s":0.625},{"g":"Positive nodes","t":2.4,"s":0.59},{"g":"Positive nodes","t":2.8,"s":0.56},{"g":"Positive nodes","t":3.2,"s":0.52},{"g":"Positive nodes","t":3.5,"s":0.48},{"g":"Positive nodes","t":3.8,"s":0.455},{"g":"Positive nodes","t":4.5,"s":0.448},{"g":"Positive nodes","t":5,"s":0.44},{"g":"Positive nodes","t":5.5,"s":0.425},{"g":"Positive nodes","t":7,"s":0.42},{"g":"Positive nodes","t":8,"s":0.412},{"g":"Positive nodes","t":9,"s":0.405},{"g":"Positive nodes","t":9.2,"s":0.39},{"g":"Positive nodes","t":9.6,"s":0.38},{"g":"Positive nodes","t":10,"s":0.365},{"g":"Positive nodes","t":10.3,"s":0.35},{"g":"Positive nodes","t":16,"s":0.35}
 ]},
 "mark":{"type":"line","strokeWidth":1.2,"clip":true},
 "encoding":{
  "x":{"field":"t","type":"quantitative","scale":{"domain":[-0.3,16.35],"nice":false,"zero":false},"axis":{"values":[0,1,3,5,7,10,13,16],"title":"Years since diagnosis"}},
  "y":{"field":"s","type":"quantitative","scale":{"domain":[0.28,1.03],"nice":false,"zero":false},"axis":{"values":[0.3,0.4,0.5,0.6,0.7,0.8,0.9,1.0],"format":".1f","title":"Survival probability"}},
  "color":{"field":"g","type":"nominal","scale":{"domain":["None","Positive nodes"],"range":["#2a8a2a","#ff5a1f"]},"legend":{"title":null,"columns":2,"columnPadding":7}},
  "strokeDash":{"field":"g","type":"nominal","scale":{"domain":["None","Positive nodes"],"range":[[1,0],[4,1.5]]},"legend":{"title":null,"columns":2,"columnPadding":7}}
 }},
{"title":"Distant metastasis","width":147,"height":134,
 "data":{"values":[
 {"g":"No mets","t":0,"s":1},{"g":"No mets","t":1,"s":0.988},{"g":"No mets","t":2,"s":0.977},{"g":"No mets","t":3,"s":0.967},{"g":"No mets","t":4,"s":0.958},{"g":"No mets","t":5,"s":0.951},{"g":"No mets","t":6,"s":0.946},{"g":"No mets","t":7,"s":0.941},{"g":"No mets","t":8,"s":0.937},{"g":"No mets","t":10,"s":0.932},{"g":"No mets","t":12,"s":0.927},{"g":"No mets","t":14,"s":0.922},{"g":"No mets","t":16,"s":0.92},
 {"g":"Distant mets","t":0,"s":1},{"g":"Distant mets","t":0.2,"s":0.95},{"g":"Distant mets","t":0.4,"s":0.88},{"g":"Distant mets","t":0.6,"s":0.8},{"g":"Distant mets","t":0.8,"s":0.73},{"g":"Distant mets","t":1,"s":0.69},{"g":"Distant mets","t":1.3,"s":0.63},{"g":"Distant mets","t":1.6,"s":0.58},{"g":"Distant mets","t":2,"s":0.54},{"g":"Distant mets","t":2.4,"s":0.51},{"g":"Distant mets","t":2.8,"s":0.49},{"g":"Distant mets","t":3.2,"s":0.475},{"g":"Distant mets","t":3.5,"s":0.45},{"g":"Distant mets","t":3.7,"s":0.43},{"g":"Distant mets","t":4.3,"s":0.425},{"g":"Distant mets","t":4.6,"s":0.4},{"g":"Distant mets","t":4.9,"s":0.37},{"g":"Distant mets","t":6.4,"s":0.37},{"g":"Distant mets","t":6.6,"s":0.345},{"g":"Distant mets","t":7,"s":0.31},{"g":"Distant mets","t":8,"s":0.29},{"g":"Distant mets","t":9,"s":0.282},{"g":"Distant mets","t":16,"s":0.277}
 ]},
 "mark":{"type":"line","strokeWidth":1.2,"clip":true},
 "encoding":{
  "x":{"field":"t","type":"quantitative","scale":{"domain":[-0.3,16.35],"nice":false,"zero":false},"axis":{"values":[0,1,3,5,7,10,13,16],"title":"Years since diagnosis"}},
  "y":{"field":"s","type":"quantitative","scale":{"domain":[0.257,1.023],"nice":false,"zero":false},"axis":{"values":[0.3,0.4,0.5,0.6,0.7,0.8,0.9,1.0],"format":".1f","title":"Survival probability"}},
  "color":{"field":"g","type":"nominal","scale":{"domain":["No mets","Distant mets"],"range":["#2a8a2a","#ff5a1f"]},"legend":{"title":null,"columns":2,"columnPadding":12}},
  "strokeDash":{"field":"g","type":"nominal","scale":{"domain":["No mets","Distant mets"],"range":[[1,0],[4,1.5]]},"legend":{"title":null,"columns":2,"columnPadding":12}}
 }}
]
}
